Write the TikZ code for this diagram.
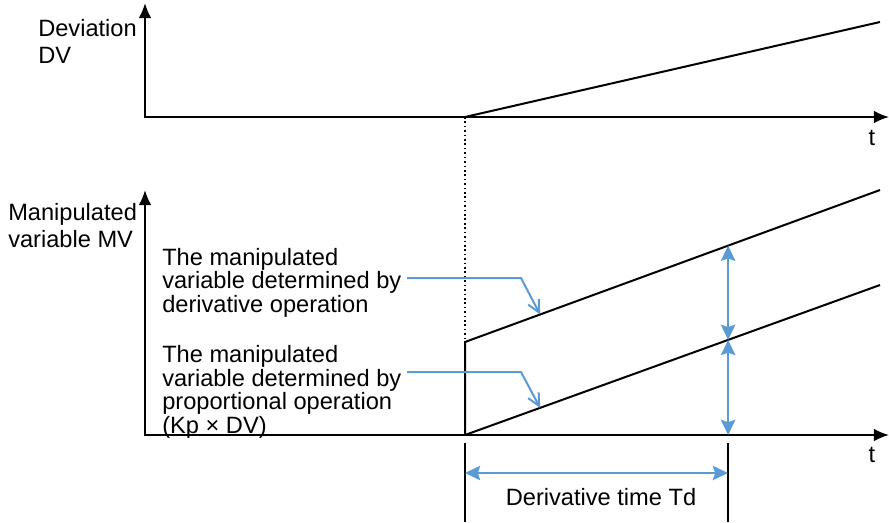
\documentclass[tikz,border=0pt]{standalone}
\usepackage{fontspec}
\setmainfont{Liberation Sans}
\usetikzlibrary{arrows.meta}

\definecolor{spanblue}{RGB}{91,155,213}

\tikzset{
  axis/.style={line width=0.05cm, {Latex[length=0.38cm,width=0.32cm]}-{Latex[length=0.38cm,width=0.32cm]}},
  graph/.style={line width=0.05cm},
  leader/.style={spanblue, line width=0.05cm, -{Straight Barb[length=0.3cm,width=0.3cm]}},
  span/.style={spanblue, line width=0.05cm,
    {Stealth[length=0.38cm,width=0.36cm,inset=0.06cm]}-{Stealth[length=0.38cm,width=0.36cm,inset=0.06cm]}},
  % multi-line labels sit on the baseline of their last line
  axlabel/.style={inner sep=0pt, anchor=base west, align=left, font=\fontsize{16.8}{19}\selectfont},
  lbl/.style={inner sep=0pt, anchor=base west, align=left, font=\fontsize{16.8}{16.7}\selectfont},
  tlabel/.style={inner sep=0pt, anchor=base, font=\fontsize{16.8}{16.7}\selectfont}
}

\begin{document}
\begin{tikzpicture}[x=0.025cm,y=-0.025cm]
        \useasboundingbox (0,0) rectangle (889,522);

        % Deviation axes
        \coordinate (dvtop) at (145,3);
        \coordinate (dv0) at (145,117);
        \coordinate (dvend) at (889,117);
        \draw[axis] (dvtop) -- (dv0) -- (dvend);

        % Manipulated variable axes
        \coordinate (mvtop) at (145,190);
        \coordinate (mv0) at (145,435);
        \coordinate (mvend) at (889,435);
        \draw[axis] (mvtop) -- (mv0) -- (mvend);

        % Axis labels
        \node[axlabel] (dvlabel) at (38,63) {Deviation\\DV};
        \node[axlabel] (mvlabel) at (8,247) {Manipulated\\variable MV};
        \node[tlabel] (tdv) at (872,145) {t};
        \node[tlabel] (tmv) at (872,462) {t};

        % Ramp of the deviation
        \coordinate (dvstart) at (465,117);
        \coordinate (dvramp) at (880,22);
        \draw[graph] (dvstart) -- (dvramp);

        % Manipulated variable: step plus ramp
        \coordinate (td0) at (465,435);
        \coordinate (kd0) at (465,342);
        \coordinate (kdend) at (880,190);
        \coordinate (kpend) at (880,285);
        \draw[graph] (td0) -- (kd0) -- (kdend);
        \draw[graph] (td0) -- (kpend);
        \draw[dotted, line width=0.04cm] (dvstart) -- (kd0);

        % Points on the two lines
        \path (kd0) -- (kdend) coordinate[pos=0.181] (derivtip) coordinate[pos=0.634] (kdtd);
        \path (td0) -- (kpend) coordinate[pos=0.181] (proptip) coordinate[pos=0.634] (kptd);
        \coordinate (tdaxis) at (kdtd |- mv0);

        \draw[span] (kdtd) -- (kptd);
        \draw[span] (kptd) -- (tdaxis);

        % Explanations with leaders
        \node[lbl] (derivtext) at (162,312) {The manipulated\\variable determined by\\derivative operation};
        \node[lbl] (proptext) at (162,433) {The manipulated\\variable determined by\\proportional operation\\(Kp × DV)};

        \coordinate (derivfrom) at (407,278);
        \coordinate (derivbend) at (521,278);
        \coordinate (propfrom) at (407,372);
        \coordinate (propbend) at (521,372);
        \draw[leader] (derivfrom) -- (derivbend) -- (derivtip);
        \draw[leader] (propfrom) -- (propbend) -- (proptip);

        % Derivative time
        \coordinate (tdl) at (465,443);
        \coordinate (tdlb) at (465,522);
        \coordinate (tdr) at (728,443);
        \coordinate (tdrb) at (728,522);
        \draw[graph] (tdl) -- (tdlb);
        \draw[graph] (tdr) -- (tdrb);
        \coordinate (tdspanl) at (465,473);
        \coordinate (tdspanr) at (728,473);
        \draw[span] (tdspanl) -- (tdspanr);
        \node[tlabel] (tdlabel) at (601,505) {Derivative time Td};

\end{tikzpicture}
\end{document}
